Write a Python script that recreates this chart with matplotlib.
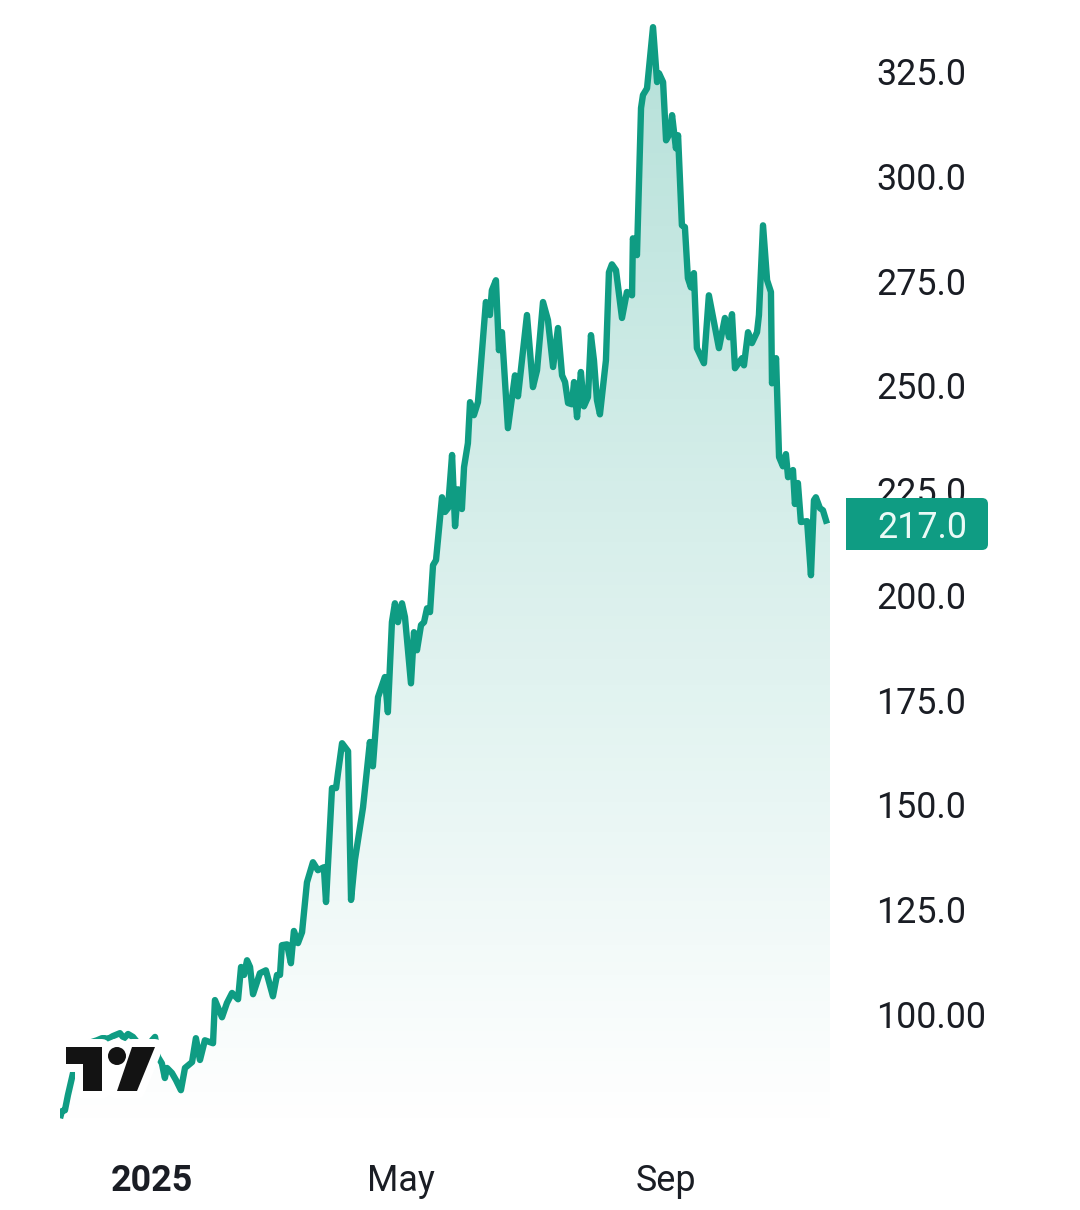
import numpy as np
import matplotlib
matplotlib.use("Agg")
import matplotlib.pyplot as plt
from matplotlib.patches import Polygon, Circle, FancyBboxPatch, Rectangle
from matplotlib.transforms import Affine2D
from matplotlib.colors import to_rgb

plt.rcParams['font.family'] = ['Roboto', 'DejaVu Sans']

# days since the start of 2025 and closing price
days = [-41.1,-40.2,-38.8,-37.4,-35.0,-32.7,-29.4,-26.2,-23.8,-21.5,-20.1,-18.7,-16.4,-13.1,-11.2,-9.3,-7.0,-5.1,-2.8,0,
        1.9,3.3,4.7,6.5,7.9,8.9,11.2,13.1,15.4,17.3,20.6,22.4,24.3,26.6,30.4,31.3,34.6,36.9,39.3,42.1,
        43.5,44.9,46.3,47.7,49.1,52.3,55.1,58.4,60.3,61.7,62.6,65.0,66.8,68.2,70.1,72.0,74.3,77.1,79.4,82.2,
        83.2,86.0,87.9,88.8,90.7,93.5,94.9,96.7,100.5,103.7,105.1,107.5,110.7,112.1,114.0,115.4,116.8,118.7,120.1,122.9,
        124.3,125.7,127.6,129.0,130.4,131.8,133.2,134.6,137.4,138.8,140.2,142.1,143.5,144.9,146.7,147.7,149.5,150.5,152.3,154.2,
        157.9,159.8,160.7,162.6,164.0,165.4,168.2,171.5,172.9,177.1,179.9,181.8,184.6,186.9,189.3,191.6,193.5,194.9,196.3,198.1,
        199.1,200.5,202.3,203.7,205.6,207.0,208.4,209.8,211.2,214.0,215.4,216.8,218.7,221.5,223.8,226.2,226.6,228.5,230.4,231.3,
        233.2,236.0,237.9,238.8,240.7,242.1,243.9,244.9,246.7,247.7,249.5,250.9,252.3,253.7,255.1,256.5,259.8,262.1,266.8,269.6,
        271.5,272.9,274.3,277.6,278.5,280.4,282.2,284.6,285.5,287.4,289.3,291.1,291.6,293.5,294.9,296.7,298.1,299.1,301.4,302.3,
        303.7,305.1,308.0,309.8,311.2,312.1,314.0,315.4,317.3]
prices = [75.1,76.8,77.0,80.6,85.9,90.2,92.5,93.3,93.7,94.2,94.2,94.0,94.7,95.4,94.2,95.2,94.5,93.3,91.4,91.4,
          93.7,94.5,89.7,88.2,84.7,87.1,85.9,84.2,81.8,87.1,88.5,94.2,89.0,93.7,93.0,103.3,99.2,102.6,105.0,103.5,
          111.2,109.3,112.8,111.2,104.7,109.7,110.4,104.2,109.3,109.3,116.4,116.6,112.1,119.8,116.9,119.5,131.4,136.2,134.3,135.0,
          126.7,153.9,153.9,157.5,164.6,162.7,127.2,136.7,149.3,164.9,159.1,175.6,180.4,172.0,193.5,198.0,193.5,198.0,194.7,178.9,
          191.1,186.8,192.8,193.5,196.8,195.9,207.1,208.3,223.3,219.8,220.7,233.4,216.4,225.2,220.5,230.5,236.2,246.0,242.9,246.0,
          269.9,266.8,272.7,275.1,258.4,262.7,239.8,252.4,247.4,266.8,249.6,253.6,269.9,265.6,254.4,263.7,252.4,250.8,245.8,245.5,
          250.8,242.4,253.2,245.0,247.2,262.0,256.0,246.5,243.1,256.0,277.0,278.9,277.5,266.1,272.3,271.5,285.1,281.1,316.2,319.3,
          320.9,335.5,322.4,324.5,322.4,308.5,310.2,314.5,306.6,309.7,288.2,287.8,275.6,273.4,276.8,258.9,255.3,271.5,258.9,266.1,
          261.5,267.0,254.1,256.5,254.8,262.7,260.1,262.7,266.8,288.2,275.1,272.3,250.5,256.5,232.9,230.7,233.6,228.1,229.8,221.7,
          226.7,217.4,217.6,204.7,222.6,223.3,220.7,220.2,217.0]
y_ticks = [100, 125, 150, 175, 200, 225, 250, 275, 300, 325]
y_tick_labels = ["100.00", "125.0", "150.0", "175.0", "200.0", "225.0", "250.0", "275.0", "300.0", "325.0"]
x_ticks = [2, 118, 242]
x_tick_labels = ["2025", "May", "Sep"]
last_label = "217.0"

W, H = 1080, 1210
GREEN = "#0f9c83"
TEXT = "#1a1d24"
FS = 25.8

fig = plt.figure(figsize=(W / 100, H / 100), dpi=100, facecolor="white")
ax = fig.add_axes([60 / W, 1 - 1135 / H, 770 / W, 1125 / H])
ax.set_xlim(-41.1, 318.7)
ax.set_ylim(71.1, 339.6)
for s in ax.spines.values():
    s.set_visible(False)
ax.patch.set_alpha(0)

# gradient area under the line
r, g, b = to_rgb("#089981")
grad = np.zeros((256, 1, 4))
grad[..., 0], grad[..., 1], grad[..., 2] = r, g, b
grad[:, 0, 3] = np.linspace(0.30, 0.0, 256)
im = ax.imshow(grad, extent=[-41.1, 318.7, 71.1, 335.5], aspect="auto", origin="upper", zorder=1)
poly_pts = list(zip(days, prices)) + [(318.7, prices[-1]), (318.7, 71.1), (days[0], 71.1)]
clip = Polygon(poly_pts, closed=True, transform=ax.transData, fc="none", ec="none")
ax.add_patch(clip)
im.set_clip_path(clip)
ax.set_xlim(-41.1, 318.7)
ax.set_ylim(71.1, 339.6)

ax.plot(days, prices, color=GREEN, lw=4.6, solid_joinstyle="round", solid_capstyle="butt", zorder=3)

ax.yaxis.tick_right()
ax.set_yticks(y_ticks)
ax.set_yticklabels(y_tick_labels, fontsize=FS, color=TEXT)
ax.tick_params(axis="y", length=0, pad=33.5)
ax.set_xticks(x_ticks)
ax.set_xticklabels(x_tick_labels, fontsize=FS, color=TEXT)
ax.tick_params(axis="x", length=0, pad=20.5)
ax.get_xticklabels()[0].set_fontweight("bold")

# pixel transform, origin top-left
px = Affine2D().scale(1, -1).translate(0, H)

# last-value tag
fig.add_artist(FancyBboxPatch((852, 502), 132, 44, boxstyle="round,pad=4,rounding_size=6",
                              fc=GREEN, ec="none", transform=px, zorder=5))
fig.add_artist(Rectangle((846, 498), 30, 52, fc=GREEN, ec="none", transform=px, zorder=5))
fig.text(877 / W, 1 - 524 / H, last_label, color="#eafaf6", fontsize=FS, ha="left",
         va="center_baseline", zorder=6)

# TradingView logo with white halo
t_pts = [(66, 1047), (102, 1047), (102, 1091), (83, 1091), (83, 1064), (66, 1064)]
s_pts = [(132, 1047), (155, 1047), (137, 1091), (117, 1091)]
for lw_, col, z in ((11.5, "white", 7), (0, "#131313", 8)):
    fig.add_artist(Polygon(t_pts, closed=True, fc=col, ec=col, lw=lw_, transform=px, zorder=z, joinstyle="round"))
    fig.add_artist(Polygon(s_pts, closed=True, fc=col, ec=col, lw=lw_, transform=px, zorder=z, joinstyle="round"))
    fig.add_artist(Circle((117, 1056), 9, fc=col, ec=col, lw=lw_, transform=px, zorder=z))
fig.add_artist(Rectangle((100, 1045), 40, 50, fc="white", ec="none", transform=px, zorder=6.5))

fig.savefig("out.png", dpi=100, facecolor="white")
